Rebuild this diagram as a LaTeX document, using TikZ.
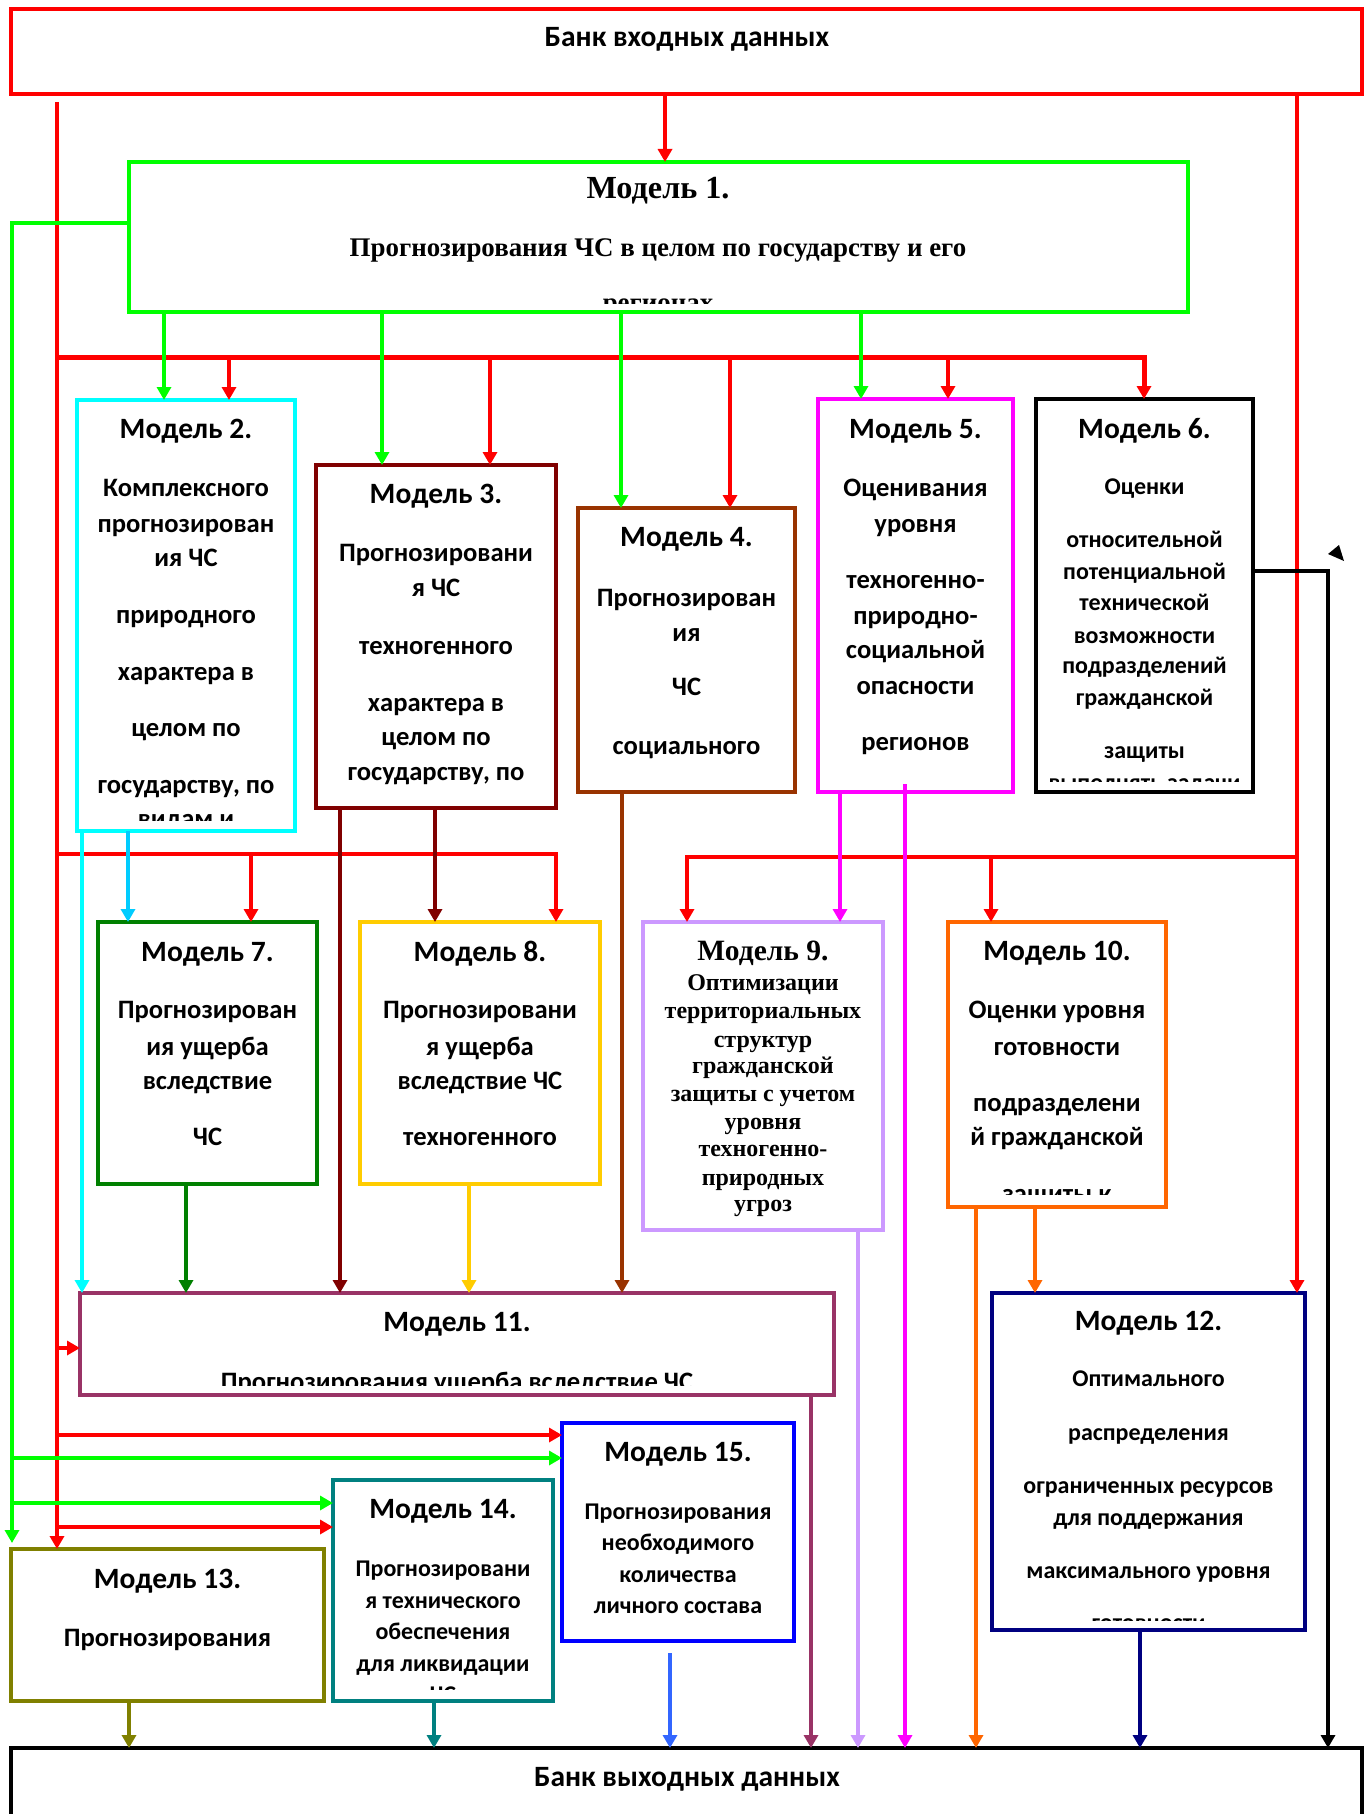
\documentclass[tikz,border=0pt]{standalone}
\usepackage{fontspec}
\setmainfont{Carlito}
\newfontfamily\tnr{Liberation Serif}
\usetikzlibrary{arrows.meta,fit}
\definecolor{cRed}{HTML}{FF0000}
\definecolor{cGreen}{HTML}{00FF00}
\definecolor{cCyan}{HTML}{00FFFF}
\definecolor{cSky}{HTML}{00CCFF}
\definecolor{cDRed}{HTML}{800000}
\definecolor{cBrown}{HTML}{993300}
\definecolor{cMag}{HTML}{FF00FF}
\definecolor{cLav}{HTML}{CC99FF}
\definecolor{cOrange}{HTML}{FF6600}
\definecolor{cGSeven}{HTML}{008000}
\definecolor{cGold}{HTML}{FFCC00}
\definecolor{cPlum}{HTML}{993366}
\definecolor{cBlue}{HTML}{0000FF}
\definecolor{cLBlue}{HTML}{3366FF}
\definecolor{cTeal}{HTML}{008080}
\definecolor{cOlive}{HTML}{808000}
\definecolor{cNavy}{HTML}{000080}
\newcommand\mlines[4]{\foreach \lyy/\ltxt [count=\lnum] in {#4}{\node[#3] (#1-\lnum) at (#2,\lyy) {\ltxt};}}
\begin{document}
\begin{tikzpicture}[x=1pt,y=-1pt,
  mbox/.style={draw, line width=4pt, fill=white, inner sep=0pt, outer sep=0pt},
  tx/.style={inner sep=0pt, anchor=mid, yshift=-6pt},
  ttl/.style={tx, font={\bfseries\fontsize{29.5}{31}\selectfont}},
  txt/.style={tx, font={\bfseries\fontsize{26.6}{28}\selectfont}},
  stxt/.style={tx, font={\bfseries\fontsize{24}{26}\selectfont}},
  bank/.style={tx, font={\bfseries\fontsize{29.5}{31}\selectfont}},
  rbig/.style={tx, font={\tnr\bfseries\fontsize{32.2}{34}\selectfont}},
  rttl/.style={tx, font={\tnr\bfseries\fontsize{29.5}{31}\selectfont}},
  rtxt/.style={tx, font={\tnr\bfseries\fontsize{24}{26}\selectfont}},
  rbody/.style={tx, font={\tnr\bfseries\fontsize{26.9}{28}\selectfont}},
  conn/.style={line width=4pt, -{Triangle[length=13pt,width=14pt]}},
]
\fill[white] (0,0) rectangle (1370,1814);
\useasboundingbox (0,0) rectangle (1370,1814);

% ---------- boxes ----------
\node[mbox, draw=cRed, fit={(11,9) (1362,94)}] (bin) {};
\node[mbox, draw=cGreen, fit={(129,162) (1188,312)}] (m1) {};
\node[mbox, draw=cCyan, fit={(77,400) (295,831)}] (m2) {};
\node[mbox, draw=cDRed, fit={(316,465) (556,808)}] (m3) {};
\node[mbox, draw=cBrown, fit={(578,508) (795,792)}] (m4) {};
\node[mbox, draw=cMag, fit={(818,399) (1013,792)}] (m5) {};
\node[mbox, draw=black, fit={(1036,399) (1253,792)}] (m6) {};
\node[mbox, draw=cGSeven, fit={(98,922) (317,1184)}] (m7) {};
\node[mbox, draw=cGold, fit={(360,922) (600,1184)}] (m8) {};
\node[mbox, draw=cLav, fit={(643,922) (883,1230)}] (m9) {};
\node[mbox, draw=cOrange, fit={(948,922) (1166,1207)}] (m10) {};
\node[mbox, draw=cPlum, fit={(80,1293) (834,1395)}] (m11) {};
\node[mbox, draw=cNavy, fit={(992,1293) (1305,1630)}] (m12) {};
\node[mbox, draw=cOlive, fit={(11,1549) (324,1701)}] (m13) {};
\node[mbox, draw=cTeal, fit={(333,1480) (553,1701)}] (m14) {};
\node[mbox, draw=cBlue, fit={(562,1423) (794,1641)}] (m15) {};
\node[mbox, draw=black, fit={(11,1748) (1362,1850)}] (bout) {};

% ---------- connectors ----------
\coordinate (rl) at (57,102);
\coordinate (gl) at (12,1543);
\coordinate (mg) at (905,784);
\coordinate (lb) at (670,1653);

\draw[conn,cRed] (bin.south -| 665,0) -- (m1.north -| 665,0);
\draw[conn,cRed] (rl) -- (m13.north -| 57,0);
\draw[conn,cRed] (bin.south -| 1297,0) -- (m12.north -| 1297,0);
\draw[conn,cRed,line width=5pt] (57,357) -- (1144,357) -- (m6.north -| 1144,0);
\foreach \xx/\mm in {229/m2,490/m3,730/m4,948/m5}
  \draw[conn,cRed] (\xx,357) -- (\mm.north -| \xx,0);
\draw[conn,cRed] (57,854) -- (556,854) -- (m8.north -| 556,0);
\draw[conn,cRed] (251,854) -- (m7.north -| 251,0);
\draw[conn,cRed] (1297,857) -- (687,857) -- (m9.north -| 687,0);
\draw[conn,cRed] (991,857) -- (m10.north -| 991,0);
\draw[conn,cRed] (57,1348) -- (m11.west |- 0,1348);
\draw[conn,cRed] (57,1435) -- (m15.west |- 0,1435);
\draw[conn,cRed] (57,1527) -- (m14.west |- 0,1527);

\draw[conn,cGreen] (m1.west |- 0,223) -- (12,223) -- (gl);
\foreach \xx/\mm in {164/m2,382/m3,621/m4,861/m5}
  \draw[conn,cGreen] (m1.south -| \xx,0) -- (\mm.north -| \xx,0);
\draw[conn,cGreen] (12,1458) -- (m15.west |- 0,1458);
\draw[conn,cGreen] (12,1503) -- (m14.west |- 0,1503);

\draw[conn,cCyan] (m2.south -| 82,0) -- (m11.north -| 82,0);
\draw[conn,cSky] (m2.south -| 128,0) -- (m7.north -| 128,0);
\draw[conn,cDRed] (m3.south -| 340,0) -- (m11.north -| 340,0);
\draw[conn,cDRed] (m3.south -| 435,0) -- (m8.north -| 435,0);
\draw[conn,cBrown] (m4.south -| 622,0) -- (m11.north -| 622,0);
\draw[conn,cMag] (m5.south -| 840,0) -- (m9.north -| 840,0);
\draw[conn,cMag] (mg) -- (bout.north -| 905,0);
\draw[conn,black] (m6.east |- 0,571) -- (1328,571) -- (bout.north -| 1328,0);
\draw[conn,cLav] (m9.south -| 858,0) -- (bout.north -| 858,0);
\draw[conn,cOrange] (m10.south -| 976,0) -- (bout.north -| 976,0);
\draw[conn,cOrange] (m10.south -| 1035,0) -- (m12.north -| 1035,0);
\draw[conn,cGSeven] (m7.south -| 186,0) -- (m11.north -| 186,0);
\draw[conn,cGold] (m8.south -| 469,0) -- (m11.north -| 469,0);
\draw[conn,cPlum] (m11.south -| 811,0) -- (bout.north -| 811,0);
\draw[conn,cOlive] (m13.south -| 129,0) -- (bout.north -| 129,0);
\draw[conn,cTeal] (m14.south -| 434,0) -- (bout.north -| 434,0);
\draw[conn,cLBlue] (lb) -- (bout.north -| 670,0);
\draw[conn,cNavy] (m12.south -| 1140,0) -- (bout.north -| 1140,0);
\fill[black] (1328,554) -- (1339,545) -- (1344,561) -- cycle;

% ---------- texts ----------
\node[bank] (bin-t) at (687,38) {Банк входных данных};
\node[bank] (bout-t) at (687,1778) {Банк выходных данных};

\node[rbig] (m1-t) at (658,190) {Модель 1.};
\begin{scope}
\clip (131,164) rectangle (1186,303);
\mlines{m1-b}{658}{rbody}{248/{Прогнозирования ЧС в целом по государству и его},303.5/регионах}
\end{scope}

\node[ttl] (m2-t) at (186,430) {Модель 2.};
\begin{scope}
\clip (79,402) rectangle (293,820);
\mlines{m2-b}{186}{txt}{488/Комплексного,524/прогнозирован,558/ия ЧС,615/природного,672/характера в,728/целом по,785/{государству, по},819/видам и}
\end{scope}

\node[ttl] (m3-t) at (436,495) {Модель 3.};
\mlines{m3-b}{436}{txt}{553/Прогнозировани,588/я ЧС,646/техногенного,703/характера в,737/целом по,772/{государству, по}}

\node[ttl] (m4-t) at (686.5,538) {Модель 4.};
\mlines{m4-b}{686.5}{txt}{598/Прогнозирован,633/ия,687/ЧС,746/социального}

\node[ttl] (m5-t) at (915.5,430) {Модель 5.};
\mlines{m5-b}{915.5}{txt}{488/Оценивания,524/уровня,580/техногенно-,616/природно-,650/социальной,686/опасности,742/регионов}

\node[ttl] (m6-t) at (1144.5,430) {Модель 6.};
\begin{scope}
\clip (1038,401) rectangle (1251,781);
\mlines{m6-b}{1144.5}{stxt}{486/Оценки,539/относительной,571/потенциальной,602/технической,635/возможности,665/подразделений,697/гражданской,750/защиты,782/выполнять задачи}
\end{scope}

\node[ttl] (m7-t) at (207.5,953) {Модель 7.};
\mlines{m7-b}{207.5}{txt}{1010/Прогнозирован,1047/ия ущерба,1081/вследствие,1137/ЧС}

\node[ttl] (m8-t) at (480,953) {Модель 8.};
\mlines{m8-b}{480}{txt}{1010/Прогнозировани,1047/я ущерба,1081/вследствие ЧС,1137/техногенного}

\node[rttl] (m9-t) at (763,952) {Модель 9.};
\mlines{m9-b}{763}{rtxt}{982/Оптимизации,1010/территориальных,1039/структур,1065/гражданской,1093/защиты с учетом,1121/уровня,1148/техногенно-,1177/природных,1203/угроз}

\node[ttl] (m10-t) at (1057,952) {Модель 10.};
\begin{scope}
\clip (950,924) rectangle (1164,1194);
\mlines{m10-b}{1057}{txt}{1010/Оценки уровня,1047/готовности,1103/подразделени,1137/й гражданской,1194/защиты к}
\end{scope}

\node[ttl] (m11-t) at (457,1323) {Модель 11.};
\begin{scope}
\clip (82,1295) rectangle (832,1385);
\node[txt] (m11-b) at (457,1382) {Прогнозирования ущерба вследствие ЧС};
\end{scope}

\node[ttl] (m12-t) at (1148.5,1322) {Модель 12.};
\begin{scope}
\clip (994,1295) rectangle (1303,1620);
\mlines{m12-b}{1148.5}{stxt}{1378/Оптимального,1432/распределения,1485/ограниченных ресурсов,1517/для поддержания,1570/максимального уровня,1622/готовности}
\end{scope}

\node[ttl] (m13-t) at (167.5,1580) {Модель 13.};
\node[txt] (m13-b) at (167.5,1638) {Прогнозирования};

\node[ttl] (m14-t) at (443,1510) {Модель 14.};
\begin{scope}
\clip (335,1482) rectangle (551,1689);
\mlines{m14-b}{443}{stxt}{1568/Прогнозировани,1600/я технического,1631/обеспечения,1663/для ликвидации,1694/ЧС}
\end{scope}

\node[ttl] (m15-t) at (678,1453) {Модель 15.};
\mlines{m15-b}{678}{stxt}{1511/Прогнозирования,1542/необходимого,1574/количества,1605/личного состава}
\end{tikzpicture}
\end{document}
